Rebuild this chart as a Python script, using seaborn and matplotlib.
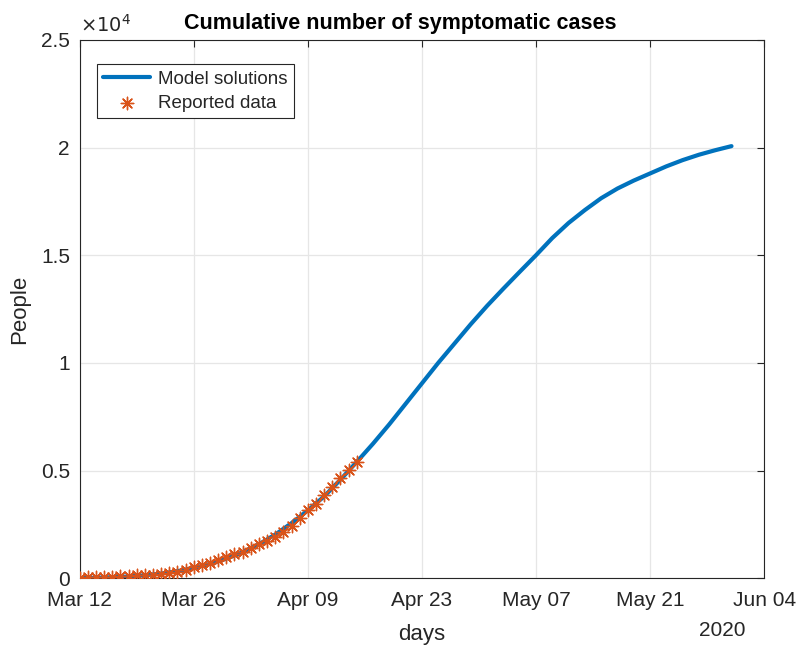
import numpy as np
import pandas as pd
import seaborn as sns
import matplotlib.pyplot as plt
import matplotlib.dates as mdates
from matplotlib.ticker import FuncFormatter

# data (days since Mar 12 2020)
start = pd.Timestamp('2020-03-12')

report_days = list(range(35))
report_cases = [30, 40, 50, 65, 80, 95, 110, 130, 150, 175, 200, 250, 310, 400, 510,
                610, 720, 850, 1000, 1110, 1230, 1400, 1590, 1750, 1925, 2150, 2420,
                2800, 3190, 3470, 3850, 4240, 4670, 5040, 5420]

model_days = list(range(0, 82, 2))
model_cases = [10, 25, 50, 85, 140, 220, 330, 480, 670, 910, 1210, 1580, 2030, 2560,
               3150, 3800, 4580, 5400, 6250, 7150, 8100, 9050, 10000, 10900, 11800,
               12650, 13450, 14230, 15000, 15800, 16500, 17100, 17650, 18100, 18470,
               18800, 19130, 19420, 19670, 19880, 20070]

xticks = ['2020-03-12', '2020-03-26', '2020-04-09', '2020-04-23', '2020-05-07',
          '2020-05-21', '2020-06-04']
yticks = [0, 5000, 10000, 15000, 20000, 25000]

df_model = pd.DataFrame({'date': start + pd.to_timedelta(model_days, unit='D'),
                         'cases': model_cases})
df_rep = pd.DataFrame({'date': start + pd.to_timedelta(report_days, unit='D'),
                       'cases': report_cases})

sns.set_theme(style='white')
plt.rcParams['font.family'] = ['Liberation Sans', 'DejaVu Sans']

blue = '#0072BD'
orange = '#D95319'
dark = '#262626'

fig = plt.figure(figsize=(8, 6.48), dpi=100)
ax = fig.add_axes([0.0996, 0.1076, 0.8555, 0.8307])

sns.lineplot(data=df_model, x='date', y='cases', color=blue, linewidth=3,
             label='Model solutions', ax=ax)
sns.scatterplot(data=df_rep, x='date', y='cases', marker=(8, 2, 0), color=orange,
                s=80, linewidth=1.0, label='Reported data', ax=ax, zorder=3)

ax.set_xlim(pd.Timestamp(xticks[0]), pd.Timestamp(xticks[-1]))
ax.set_ylim(0, 25000)
ax.set_xticks([pd.Timestamp(t) for t in xticks])
ax.xaxis.set_major_formatter(mdates.DateFormatter('%b %d'))
ax.set_yticks(yticks)
ax.yaxis.set_major_formatter(FuncFormatter(lambda v, p: f'{v / 1e4:g}'))

ax.grid(True, color='#e6e6e6', linewidth=0.9)
for s in ax.spines.values():
    s.set_color(dark)
    s.set_linewidth(0.8)
ax.tick_params(direction='in', length=5, width=0.8, top=True, right=True,
               labelsize=15, colors=dark, labelcolor=dark)
ax.tick_params(axis='x', pad=9)
ax.tick_params(axis='y', pad=7)

# MATLAB centres the title on the figure
fig.text(0.5, 1 - 23 / 648, 'Cumulative number of symptomatic cases', fontsize=15.5,
         fontweight='bold', color='black', ha='center', va='center')
ax.set_xlabel('days', fontsize=16, color=dark, labelpad=10)
ax.set_ylabel('People', fontsize=16, color=dark, labelpad=8)
ax.text(0.0, 1.008, r'$\times10^{4}$', transform=ax.transAxes, fontsize=14,
        color=dark, ha='left', va='bottom')
ax.text(0.9386, -0.0966, '2020', transform=ax.transAxes, fontsize=15,
        color=dark, ha='center', va='center')

leg = ax.legend(loc='upper left', bbox_to_anchor=(0.0248, 0.955), borderaxespad=0,
                fontsize=13.5, frameon=True, fancybox=False, framealpha=1,
                edgecolor=dark, handlelength=2.5, handletextpad=0.4,
                borderpad=0.35, labelspacing=0.35)
leg.get_frame().set_linewidth(0.8)

fig.savefig('out.png', dpi=100)
